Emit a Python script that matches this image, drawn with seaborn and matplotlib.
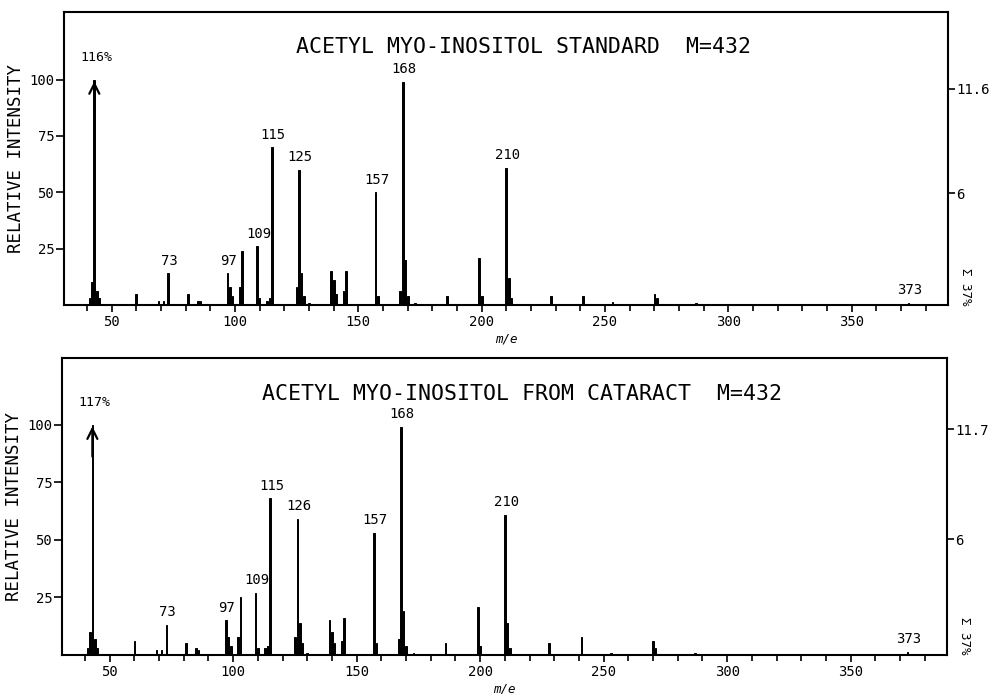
import matplotlib
matplotlib.use("Agg")
import matplotlib.pyplot as plt
import pandas as pd
import seaborn as sns
from matplotlib.ticker import MultipleLocator

# ---------------- data ----------------
mz = [41, 42, 43, 44, 45, 60, 69, 71, 73, 81, 85, 86, 97, 98, 99, 102, 103,
      109, 110, 113, 114, 115, 125, 126, 127, 128, 130, 139, 140, 141, 144,
      145, 157, 158, 167, 168, 169, 170, 173, 186, 199, 200, 210, 211, 212,
      228, 241, 253, 270, 271, 287, 373]

int_standard = [3, 10, 100, 6, 3, 5, 2, 2, 14, 5, 2, 2, 14, 8, 4, 8, 24,
                26, 3, 2, 3, 70, 8, 60, 14, 4, 1, 15, 11, 5, 6,
                15, 50, 4, 6, 99, 20, 4, 1, 4, 21, 4, 61, 12, 3,
                4, 4, 1.5, 5, 3, 1, 1]

int_cataract = [3, 10, 100, 7, 3, 6, 2, 2, 13, 5, 3, 2, 15, 8, 4, 8, 25,
                27, 3, 3, 4, 68, 8, 59, 14, 5, 1, 15, 10, 5, 6,
                16, 53, 5, 7, 99, 19, 4, 1, 5, 21, 4, 61, 14, 3,
                5, 8, 1, 6, 3, 1, 1.5]

labels_std = {73: "73", 97: "97", 109: "109", 115: "115", 126: "125",
              157: "157", 168: "168", 210: "210", 373: "373"}
labels_cat = {73: "73", 97: "97", 109: "109", 115: "115", 126: "126",
              157: "157", 168: "168", 210: "210", 373: "373"}

titles = ["ACETYL MYO-INOSITOL STANDARD  M=432",
          "ACETYL MYO-INOSITOL FROM CATARACT  M=432"]
base_pct = ["116%", "117%"]
right_top = ["11.6", "11.7"]
right_top_pos = [96, 98]
x_ticks = [50, 100, 150, 200, 250, 300, 350]
y_ticks = [25, 50, 75, 100]
ylims = [130, 129]

# ---------------- style ----------------
sns.set_theme(style="white")
plt.rcParams["font.family"] = ["DejaVu Sans Mono", "DejaVu Sans"]
plt.rcParams["text.color"] = "black"
plt.rcParams["axes.labelcolor"] = "black"
plt.rcParams["xtick.color"] = "black"
plt.rcParams["ytick.color"] = "black"

fig = plt.figure(figsize=(9.92, 6.94), dpi=100)
rects = [[0.0645, 0.5605, 0.8911, 0.4222],
         [0.0625, 0.0562, 0.8921, 0.4279]]

for i, (ints, labs) in enumerate([(int_standard, labels_std),
                                  (int_cataract, labels_cat)]):
    ax = fig.add_axes(rects[i])
    df = pd.DataFrame({"mz": mz, "intensity": ints})
    sns.barplot(data=df, x="mz", y="intensity", native_scale=True,
                color="black", width=0.7, ax=ax, saturation=1,
                edgecolor="black", linewidth=0.7)
    ax.set_xlim(30.7, 389)
    ax.set_ylim(0, ylims[i])
    ax.set_xticks(x_ticks)
    ax.set_xticklabels([str(t) for t in x_ticks], fontsize=10)
    ax.xaxis.set_minor_locator(MultipleLocator(10))
    ax.set_yticks(y_ticks)
    ax.set_yticklabels([str(t) for t in y_ticks], fontsize=10)
    ax.tick_params(axis="both", which="both", direction="out", colors="black",
                   bottom=True, left=True)
    ax.tick_params(axis="x", which="major", length=5, width=1.2, pad=2)
    ax.tick_params(axis="x", which="minor", length=4, width=1.2)
    ax.tick_params(axis="y", which="major", length=6, width=1.2, pad=1)
    for s in ax.spines.values():
        s.set_visible(True)
        s.set_color("black")
        s.set_linewidth(1.5)
    ax.set_xlabel("m/e", fontsize=9, style="italic", labelpad=3)
    ax.set_ylabel("RELATIVE INTENSITY", fontsize=12.5, labelpad=3)

    # title inside frame
    ax.text(0.52, 0.88, titles[i], transform=ax.transAxes, ha="center",
            va="center", fontsize=15.5)

    # base peak arrow and percentage
    ax.annotate("", xy=(43, 100.5), xytext=(43, 85),
                arrowprops=dict(arrowstyle="->", lw=1.6, color="black",
                                mutation_scale=18))
    ax.text(44, 107, base_pct[i], ha="center", va="bottom", fontsize=9.5)

    # peak labels
    for m, txt in labs.items():
        h = ints[mz.index(m)]
        ax.text(m + 0.5, h + 2.5, txt, ha="center", va="bottom", fontsize=10)

    # right-hand %TIC axis
    ax2 = ax.twinx()
    scale = float(right_top[i]) / right_top_pos[i]
    ax2.set_ylim(0, ylims[i] * scale)
    ax2.set_yticks([6, float(right_top[i])])
    ax2.set_yticklabels(["6", right_top[i]], fontsize=10)
    ax2.tick_params(axis="y", direction="out", length=5, width=1.2, pad=1,
                    colors="black", right=True)
    ax2.grid(False)
    for s in ax2.spines.values():
        s.set_visible(False)
    ax.text(1.012, 0.0, "\u03a3 37%", transform=ax.transAxes, rotation=-90,
            ha="left", va="bottom", fontsize=9)

fig.savefig("out.png", dpi=100)
